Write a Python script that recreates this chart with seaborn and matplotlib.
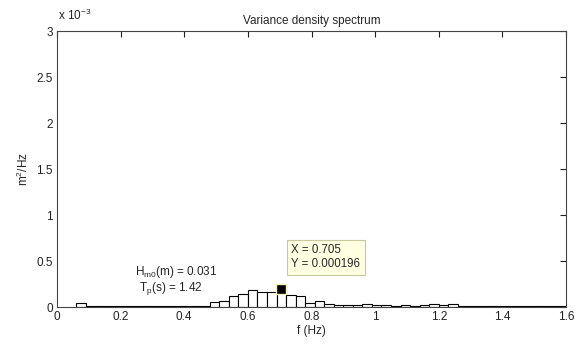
import numpy as np
import pandas as pd
import matplotlib
matplotlib.use("Agg")
import matplotlib.pyplot as plt
import seaborn as sns
from matplotlib.ticker import FuncFormatter

freq = [0.075, 0.105, 0.135, 0.165, 0.195, 0.225, 0.255, 0.285, 0.315, 0.345,
        0.375, 0.405, 0.435, 0.465, 0.495, 0.525, 0.555, 0.585, 0.615, 0.645,
        0.675, 0.705, 0.735, 0.765, 0.795, 0.825, 0.855, 0.885, 0.915, 0.945,
        0.975, 1.005, 1.035, 1.065, 1.095, 1.125, 1.155, 1.185, 1.215, 1.245,
        1.275, 1.305, 1.335, 1.365, 1.395, 1.425, 1.455, 1.485, 1.515, 1.545,
        1.575, 1.605]
density = [0.000048, 0.000016, 0.000008, 0.000007, 0.000007, 0.000008, 0.000007, 0.000007,
           0.000008, 0.000007, 0.000007, 0.000008, 0.000009, 0.000015, 0.000050, 0.000060,
           0.000115, 0.000145, 0.000180, 0.000168, 0.000167, 0.000196, 0.000128, 0.000125,
           0.000045, 0.000065, 0.000036, 0.000027, 0.000019, 0.000017, 0.000028, 0.000027,
           0.000017, 0.000016, 0.000017, 0.000016, 0.000017, 0.000034, 0.000017, 0.000028,
           0.000016, 0.000016, 0.000008, 0.000007, 0.000007, 0.000007, 0.000007, 0.000007,
           0.000007, 0.000007, 0.000007, 0.000007]
xticks = [0, 0.2, 0.4, 0.6, 0.8, 1.0, 1.2, 1.4, 1.6]
yticks = [0, 0.0005, 0.001, 0.0015, 0.002, 0.0025, 0.003]
tip_x, tip_y = 0.705, 0.000196
hm0_text = r"H$_{\rm m0}$(m) = 0.031"
tp_text = r"T$_{\rm p}$(s) = 1.42"

df = pd.DataFrame({"f": freq, "S": density})

sns.set_style("white")
plt.rcParams["font.family"] = ["Liberation Sans", "DejaVu Sans"]
plt.rcParams["mathtext.fontset"] = "custom"
plt.rcParams["mathtext.rm"] = "Liberation Sans"

fig = plt.figure(figsize=(5.77, 3.45), dpi=100)
ax = fig.add_axes([57/577, 38/345, 509/577, 276/345])

sns.histplot(data=df, x="f", weights="S", binwidth=0.03, binrange=(0.06, 1.62),
             stat="count", fill=True, color="white", edgecolor="black",
             linewidth=0.8, alpha=1, ax=ax)

ax.set_xlim(0, 1.6)
ax.set_ylim(0, 0.003)
ax.set_xticks(xticks)
ax.set_xticklabels(["0", "0.2", "0.4", "0.6", "0.8", "1", "1.2", "1.4", "1.6"])
ax.set_yticks(yticks)
ax.yaxis.set_major_formatter(FuncFormatter(lambda v, p: f"{v*1000:g}"))
ax.tick_params(direction="in", length=4, width=0.8, top=True, right=True,
               labelsize=8.5, colors="#222222", pad=3)
for s in ax.spines.values():
    s.set_visible(True)
    s.set_color("#444444")
    s.set_linewidth(0.8)

ax.set_title("Variance density spectrum", fontsize=8.5, pad=5)
ax.set_xlabel("f (Hz)", fontsize=8.5, labelpad=1)
ax.set_ylabel(r"m$^2$/Hz", fontsize=8.5, labelpad=4)
fig.text(58/577, 1 - 20/345, r"x 10$^{-3}$", fontsize=8.5, ha="left", va="baseline")

ax.text(0.246, 0.000375, hm0_text, fontsize=8.5, ha="left", va="center")
ax.text(0.258, 0.000200, tp_text, fontsize=8.5, ha="left", va="center")

ax.plot([tip_x], [tip_y], marker="s", markersize=7.5, color="black",
        markeredgecolor="#f4f0c0", markeredgewidth=1, zorder=5)
ax.text(0.737, 0.000540, f"X = {tip_x}\nY = {tip_y}", fontsize=8.3, ha="left", va="center",
        linespacing=1.25,
        bbox=dict(boxstyle="square,pad=0.4", fc="#ffffe1", ec="#c8c8a0", lw=0.8), zorder=6)

fig.savefig("out.png", dpi=100, facecolor="white")
